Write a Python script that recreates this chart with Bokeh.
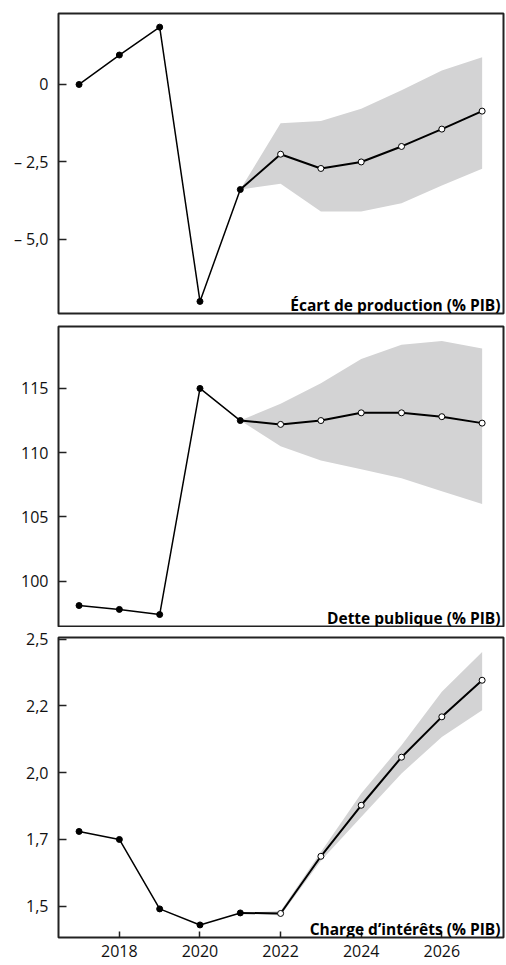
from bokeh.plotting import figure
from bokeh.layouts import column
from bokeh.models import Range1d, FixedTicker, Label
from bokeh.embed import file_html
from bokeh.resources import INLINE

# ---------------- data ----------------
years_hist = [2017, 2018, 2019, 2020, 2021]
years_proj = [2021, 2022, 2023, 2024, 2025, 2026, 2027]

ecart_hist = [0.0, 0.95, 1.85, -7.0, -3.39]
ecart_proj = [-3.39, -2.25, -2.71, -2.5, -2.0, -1.44, -0.86]
ecart_low = [-3.39, -3.2, -4.1, -4.1, -3.83, -3.26, -2.72]
ecart_high = [-3.39, -1.25, -1.18, -0.78, -0.19, 0.45, 0.88]

dette_hist = [98.1, 97.8, 97.4, 115.0, 112.5]
dette_proj = [112.5, 112.2, 112.5, 113.1, 113.1, 112.8, 112.3]
dette_low = [112.5, 110.5, 109.4, 108.7, 108.0, 107.0, 106.0]
dette_high = [112.5, 113.8, 115.4, 117.3, 118.4, 118.7, 118.1]

charge_hist = [1.78, 1.75, 1.49, 1.43, 1.475]
charge_proj = [1.475, 1.473, 1.687, 1.878, 2.058, 2.209, 2.346]
charge_low = [1.475, 1.465, 1.67, 1.834, 1.997, 2.134, 2.234]
charge_high = [1.475, 1.482, 1.703, 1.922, 2.103, 2.303, 2.452]

ecart_ticks = [-5.0, -2.5, 0.0]
ecart_labels = ["\u2013 5,0", "\u2013 2,5", "0"]
dette_ticks = [100, 105, 110, 115]
dette_labels = ["100", "105", "110", "115"]
charge_ticks = [1.5, 1.75, 2.0, 2.25, 2.5]
charge_labels = ["1,5", "1,7", "2,0", "2,2", "2,5"]
x_ticks = [2018, 2020, 2022, 2024, 2026]
x_labels = ["2018", "2020", "2022", "2024", "2026"]

titles = ["\u00c9cart de production (% PIB)", "Dette publique (% PIB)",
          "Charge d\u2019int\u00e9r\u00eats (% PIB)"]

X_START, X_END = 2016.49, 2027.53
FONT = "Open Sans"
BAND = "#d3d3d4"
FRAME = "#222222"


def panel(hist, proj, low, high, yr, ticks, labels, title, show_x, top, bottom):
    p = figure(frame_width=445, frame_height=300,
               x_range=Range1d(X_START, X_END), y_range=Range1d(*yr),
               output_backend="svg", toolbar_location=None,
               x_axis_location="below" if show_x else None,
               min_border_left=58, min_border_right=2,
               min_border_top=top, min_border_bottom=bottom,
               background_fill_color="white", border_fill_color="white")
    p.xgrid.visible = False
    p.ygrid.visible = False
    p.outline_line_color = FRAME
    p.outline_line_width = 2
    p.outline_line_alpha = 1

    ax = p.yaxis[0]
    ax.ticker = FixedTicker(ticks=ticks)
    ax.major_label_overrides = dict(zip(ticks, labels))
    ax.major_tick_in = 8
    ax.major_tick_out = 0
    ax.minor_tick_line_color = None
    ax.axis_line_color = None
    ax.major_tick_line_color = FRAME
    ax.major_tick_line_width = 1.5
    ax.major_label_text_font = FONT
    ax.major_label_text_font_size = "16px"
    ax.major_label_text_color = "#111111"
    ax.major_label_standoff = 10

    if show_x:
        xa = p.xaxis[0]
        xa.ticker = FixedTicker(ticks=x_ticks)
        xa.major_label_overrides = dict(zip(x_ticks, x_labels))
        xa.major_tick_in = 6
        xa.major_tick_out = 0
        xa.minor_tick_line_color = None
        xa.axis_line_color = None
        xa.major_tick_line_color = FRAME
        xa.major_tick_line_width = 1.5
        xa.major_label_text_font = FONT
        xa.major_label_text_font_size = "16px"
        xa.major_label_text_color = "#111111"
        xa.major_label_standoff = 7

    p.varea(x=years_proj, y1=low, y2=high, fill_color=BAND, fill_alpha=1)
    p.line(years_hist, hist, line_color="black", line_width=1.5)
    p.line(years_proj, proj, line_color="black", line_width=2)
    p.scatter(years_hist, hist, size=6, fill_color="black", line_color="black")
    p.scatter(years_proj[1:], proj[1:], size=6, fill_color="white",
              line_color="black", line_width=1)

    p.add_layout(Label(x=X_END, y=yr[0], x_offset=-3, y_offset=9, text=title,
                       text_align="right", text_baseline="alphabetic",
                       text_font=FONT, text_font_style="bold",
                       text_font_size="15.5px", text_color="black"))
    return p


p1 = panel(ecart_hist, ecart_proj, ecart_low, ecart_high, (-7.39, 2.29),
           ecart_ticks, ecart_labels, titles[0], False, 13, 6)
p2 = panel(dette_hist, dette_proj, dette_low, dette_high, (96.47, 119.82),
           dette_ticks, dette_labels, titles[1], False, 7, 1)
p3 = panel(charge_hist, charge_proj, charge_low, charge_high, (1.383, 2.506),
           charge_ticks, charge_labels, titles[2], True, 10, 27)

p = column(p1, p2, p3, spacing=0)
open("out.html", "w").write(file_html(p, INLINE))
